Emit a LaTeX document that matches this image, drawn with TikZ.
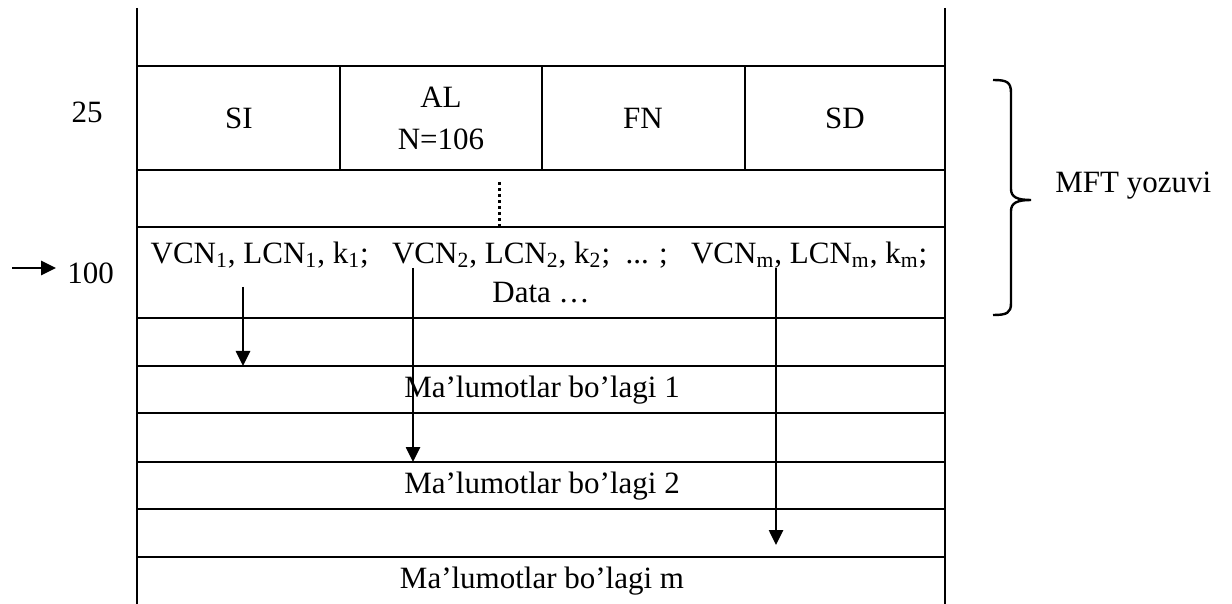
\documentclass[tikz,border=0pt]{standalone}
\usepackage{fontspec}
\setmainfont{Liberation Serif}
\usetikzlibrary{arrows.meta}

\begin{document}
\begin{tikzpicture}[x=0.5pt, y=-0.5pt, line width=1.3pt,
    every node/.style={font=\fontsize{15.5}{21}\selectfont, align=center, inner sep=1pt},
    arr/.style={-{Triangle[width=7pt,length=7.5pt]}, line width=1.3pt}]
  \useasboundingbox (0,0) rectangle (1232,604);
  % frame of the table
  \draw (137,8) -- (137,604);
  \draw (945,8) -- (945,604);
  \foreach \y in {66,170,227,318,366,413,462,509,557}
    \draw (137,\y) -- (945,\y);
  \foreach \x in {340,542,745}
    \draw (\x,66) -- (\x,170);
  \draw[dash pattern=on 1.5pt off 1.5pt, line width=1.5pt] (499,182) -- (499,227);
  % header cells
  \node (n25) at (87,112) {25};
  \node (si) at (239,118) {SI};
  \node (al) at (441,118) {AL\\N=106};
  \node (fn) at (643,118) {FN};
  \node (sd) at (845,118) {SD};
  % runs
  \node (vcn) at (539,255) {VCN\textsubscript{1}, LCN\textsubscript{1}, k\textsubscript{1};\ \ \ VCN\textsubscript{2}, LCN\textsubscript{2}, k\textsubscript{2};\ \ ... ;\ \ \ VCN\textsubscript{m}, LCN\textsubscript{m}, k\textsubscript{m};};
  \node (data) at (541,293) {Data …};
  \node[anchor=west] (n100) at (64,273) {100};
  \coordinate (in) at (12,268);
  \draw[arr, shorten >=4pt] (in) -- (in -| n100.west);
  % data blocks
  \node (blk1) at (542,390) {Ma’lumotlar bo’lagi 1};
  \node (blk2) at (542,486) {Ma’lumotlar bo’lagi 2};
  \node (blkm) at (542,581) {Ma’lumotlar bo’lagi m};
  \coordinate (r1) at (243,287);
  \coordinate (t1) at (243,366);
  \coordinate (r2) at (413,268);
  \coordinate (t2) at (413,462);
  \coordinate (rm) at (776,268);
  \coordinate (tm) at (776,545);
  \foreach \a/\b in {r1/t1,r2/t2,rm/tm}
    \draw[arr] (\a) -- (\b);
  % MFT record brace
  \draw[line width=1.2pt] (993,80) .. controls (1007,80) and (1011,82) .. (1011,93) -- (1011,189)
    .. controls (1011,197) and (1017,200) .. (1031,200)
    .. controls (1017,200) and (1011,203) .. (1011,211) -- (1011,303)
    .. controls (1011,313) and (1007,315) .. (993,315);
  \node[anchor=west] (mft) at (1052,186) {MFT yozuvi};
\end{tikzpicture}
\end{document}
